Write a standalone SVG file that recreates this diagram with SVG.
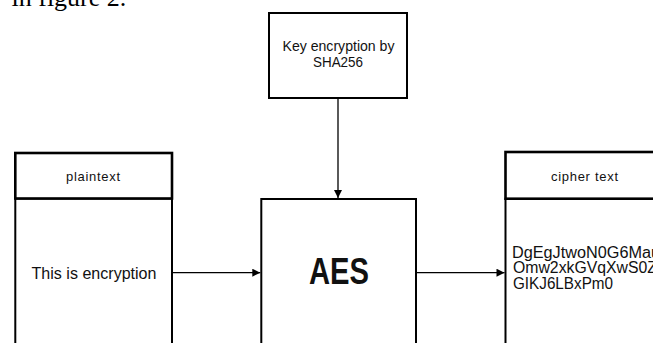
<svg xmlns="http://www.w3.org/2000/svg" width="653" height="343" viewBox="0 0 653 343">
<style>
.box{fill:#fff;stroke:#000;stroke-width:2}
.hdr{fill:#fff;stroke:#000;stroke-width:2.6}
.t{font-family:"Liberation Sans",Arial,sans-serif;fill:#111;text-anchor:middle}
.ct{font-family:"Liberation Sans",Arial,sans-serif;fill:#111;font-size:16px}
.c{stroke:#000;stroke-width:1.3;fill:none}
</style>
<defs>
<marker id="arr" viewBox="0 0 10 10" refX="10" refY="5" markerWidth="9" markerHeight="8" markerUnits="userSpaceOnUse" orient="auto">
<path d="M0,0 L10,5 L0,10 Z" fill="#000"/>
</marker>
</defs>
<rect width="653" height="343" fill="#fff"/>
<text x="11.5" y="6" font-family="Liberation Serif,'Times New Roman',serif" font-size="26" fill="#000">in figure 2.</text>
<g id="key">
<rect class="box" x="269" y="13" width="138" height="85"/>
<text class="t" x="338.5" y="51" font-size="14" textLength="112" lengthAdjust="spacingAndGlyphs">Key encryption by</text>
<text class="t" x="338" y="67" font-size="14" textLength="50" lengthAdjust="spacingAndGlyphs">SHA256</text>
</g>
<g id="plaintext">
<rect class="box" x="15.3" y="198.5" width="156.7" height="160"/>
<rect class="hdr" x="15.3" y="153" width="156.7" height="45.5"/>
<text class="t" x="93" y="181" font-size="13" textLength="54" lengthAdjust="spacing">plaintext</text>
<text class="t" x="94" y="279" font-size="17" textLength="125" lengthAdjust="spacingAndGlyphs">This is encryption</text>
</g>
<g id="aes">
<rect class="box" x="261.3" y="199" width="154.7" height="160"/>
<text class="t" x="339" y="284" font-size="36" font-weight="bold" textLength="60" lengthAdjust="spacingAndGlyphs">AES</text>
</g>
<g id="ciphertext">
<rect class="box" x="505.5" y="198.7" width="160" height="160"/>
<rect class="hdr" x="505.5" y="152" width="160" height="46.7"/>
<text class="t" x="584.5" y="181" font-size="13" textLength="67" lengthAdjust="spacing">cipher text</text>
<text class="ct" x="512" y="257.7" textLength="148" lengthAdjust="spacingAndGlyphs">DgEgJtwoN0G6Mau</text>
<text class="ct" x="513" y="273.3" textLength="144" lengthAdjust="spacingAndGlyphs">Omw2xkGVqXwS0Z</text>
<text class="ct" x="513" y="289" textLength="100" lengthAdjust="spacingAndGlyphs">GIKJ6LBxPm0</text>
</g>
<g id="connectors">
<line class="c" x1="338" y1="98" x2="338" y2="198" marker-end="url(#arr)"/>
<line class="c" x1="172" y1="272.7" x2="260.3" y2="272.7" marker-end="url(#arr)"/>
<line class="c" x1="416" y1="272.7" x2="504.5" y2="272.7" marker-end="url(#arr)"/>
</g>
</svg>
